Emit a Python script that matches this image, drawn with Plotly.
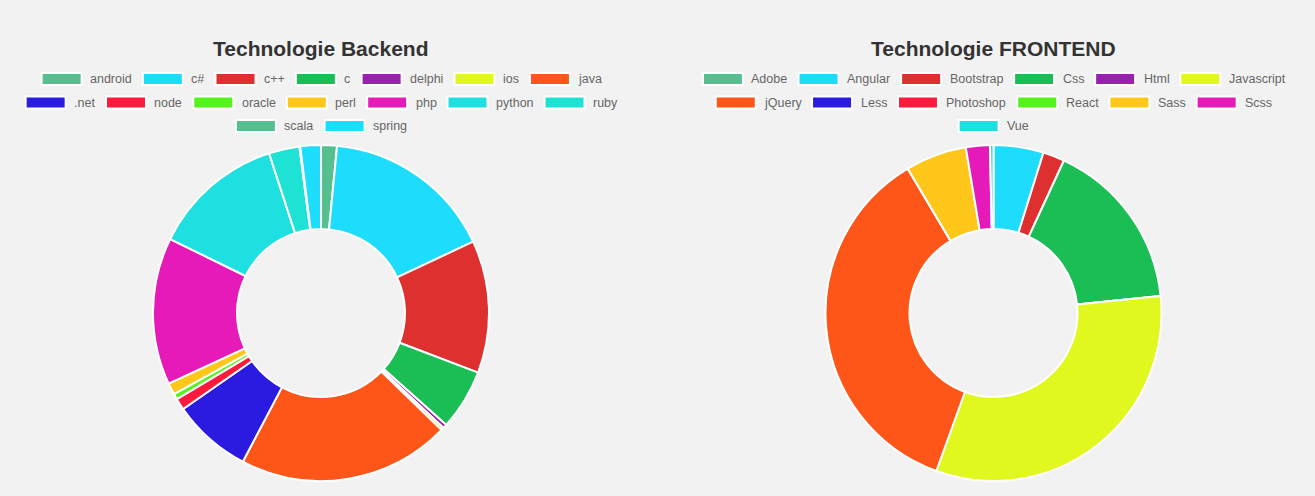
import plotly.graph_objects as go

W, H = 1315, 496

# ---------------- data ----------------
backend_title = "Technologie Backend"
backend_labels = ["android", "c#", "c++", "c", "delphi", "ios", "java", ".net", "node",
                  "oracle", "perl", "php", "python", "ruby", "scala", "spring"]
backend_values = [5.5, 59.4, 45.9, 21.0, 1.4, 1.0, 73.6, 27.4, 4.0,
                  2.0, 4.0, 51.0, 45.9, 10.6, 0.3, 7.1]

frontend_title = "Technologie FRONTEND"
frontend_labels = ["Adobe", "Angular", "Bootstrap", "Css", "Html", "Javascript", "jQuery",
                   "Less", "Photoshop", "React", "Sass", "Scss", "Vue"]
frontend_values = [0, 17.3, 7.5, 59.4, 0, 115.7, 129.4, 0, 0, 0, 21.2, 8.3, 1.2]

palette = ["#55bf8f", "#1ddcfc", "#de302e", "#1bbd55", "#9b1fb0", "#e0f81d", "#fe5619",
           "#2b1be0", "#fe1a3c", "#52f41b", "#fec71a", "#e61ab8", "#1ee0e0", "#1ee2d4",
           "#55bf8f", "#1ddcfc"]

# ---------------- styling ----------------
BG = "#f2f2f2"
LEG_FONT = 12.5
BOX_W, BOX_H, BOX_GAP, ITEM_GAP = 40, 12, 7.5, 12
MAX_ROW_W = 620
ROW_Y0, ROW_DY = 79, 23.5

# Arial / Liberation Sans advance widths (1/1000 em)
AW = {' ': 278, '.': 278, '#': 556, '+': 584,
      'a': 556, 'b': 556, 'c': 500, 'd': 556, 'e': 556, 'f': 278, 'g': 556, 'h': 556,
      'i': 222, 'j': 222, 'k': 500, 'l': 222, 'm': 833, 'n': 556, 'o': 556, 'p': 556,
      'q': 556, 'r': 333, 's': 500, 't': 278, 'u': 556, 'v': 500, 'w': 722, 'x': 500,
      'y': 500, 'z': 500,
      'A': 667, 'B': 667, 'C': 722, 'D': 722, 'E': 667, 'F': 611, 'G': 778, 'H': 722,
      'I': 278, 'J': 500, 'K': 667, 'L': 556, 'M': 833, 'N': 722, 'O': 778, 'P': 667,
      'Q': 778, 'R': 722, 'S': 667, 'T': 611, 'U': 722, 'V': 667, 'W': 944, 'X': 667,
      'Y': 667, 'Z': 611}


def text_w(s, size=LEG_FONT):
    return sum(AW.get(ch, 556) for ch in s) * size / 1000.0


def px(x):
    return x / W


def py(y):
    return (H - y) / H


fig = go.Figure()

charts = [
    (backend_title, backend_labels, backend_values, 321, 313, 168),
    (frontend_title, frontend_labels, frontend_values, 993.5, 313, 168),
]

shapes = []
annotations = []

for title, labels, values, cx, cy, r in charts:
    colors = palette[:len(labels)]
    fig.add_trace(go.Pie(
        labels=labels, values=values,
        marker=dict(colors=colors, line=dict(color="white", width=2)),
        hole=0.5, sort=False, direction="clockwise", rotation=0,
        textinfo="none", showlegend=False,
        domain=dict(x=[px(cx - r), px(cx + r)], y=[py(cy + r), py(cy - r)]),
    ))

    annotations.append(dict(
        text="<b>%s</b>" % title, x=px(cx), y=py(49), xref="paper", yref="paper",
        xanchor="center", yanchor="middle", showarrow=False,
        font=dict(family="Liberation Sans, Arial, sans-serif", size=21, color="#333333"),
    ))

    # legend (Chart.js style, centred rows)
    items = [(lab, col, BOX_W + BOX_GAP + text_w(lab)) for lab, col in zip(labels, colors)]
    rows, cur, curw = [], [], 0
    for it in items:
        nw = it[2] if not cur else curw + ITEM_GAP + it[2]
        if cur and nw > MAX_ROW_W:
            rows.append((cur, curw))
            cur, curw = [it], it[2]
        else:
            cur.append(it)
            curw = nw
    if cur:
        rows.append((cur, curw))

    for ri, (row, rw) in enumerate(rows):
        x = cx - rw / 2
        y = ROW_Y0 + ri * ROW_DY
        for lab, col, w in row:
            shapes.append(dict(
                type="rect", xref="paper", yref="paper",
                x0=px(x), x1=px(x + BOX_W), y0=py(y + BOX_H / 2), y1=py(y - BOX_H / 2),
                fillcolor=col, line=dict(color="white", width=2),
            ))
            annotations.append(dict(
                text=lab, x=px(x + BOX_W + BOX_GAP), y=py(y), xref="paper", yref="paper",
                xanchor="left", yanchor="middle", showarrow=False,
                xshift=-1,
                font=dict(family="Liberation Sans, Arial, sans-serif", size=LEG_FONT, color="#666666"),
            ))
            x += w + ITEM_GAP

fig.update_layout(
    width=W, height=H,
    margin=dict(l=0, r=0, t=0, b=0),
    paper_bgcolor=BG, plot_bgcolor=BG,
    shapes=shapes, annotations=annotations,
    showlegend=False,
)

fig.write_html("out.html")
